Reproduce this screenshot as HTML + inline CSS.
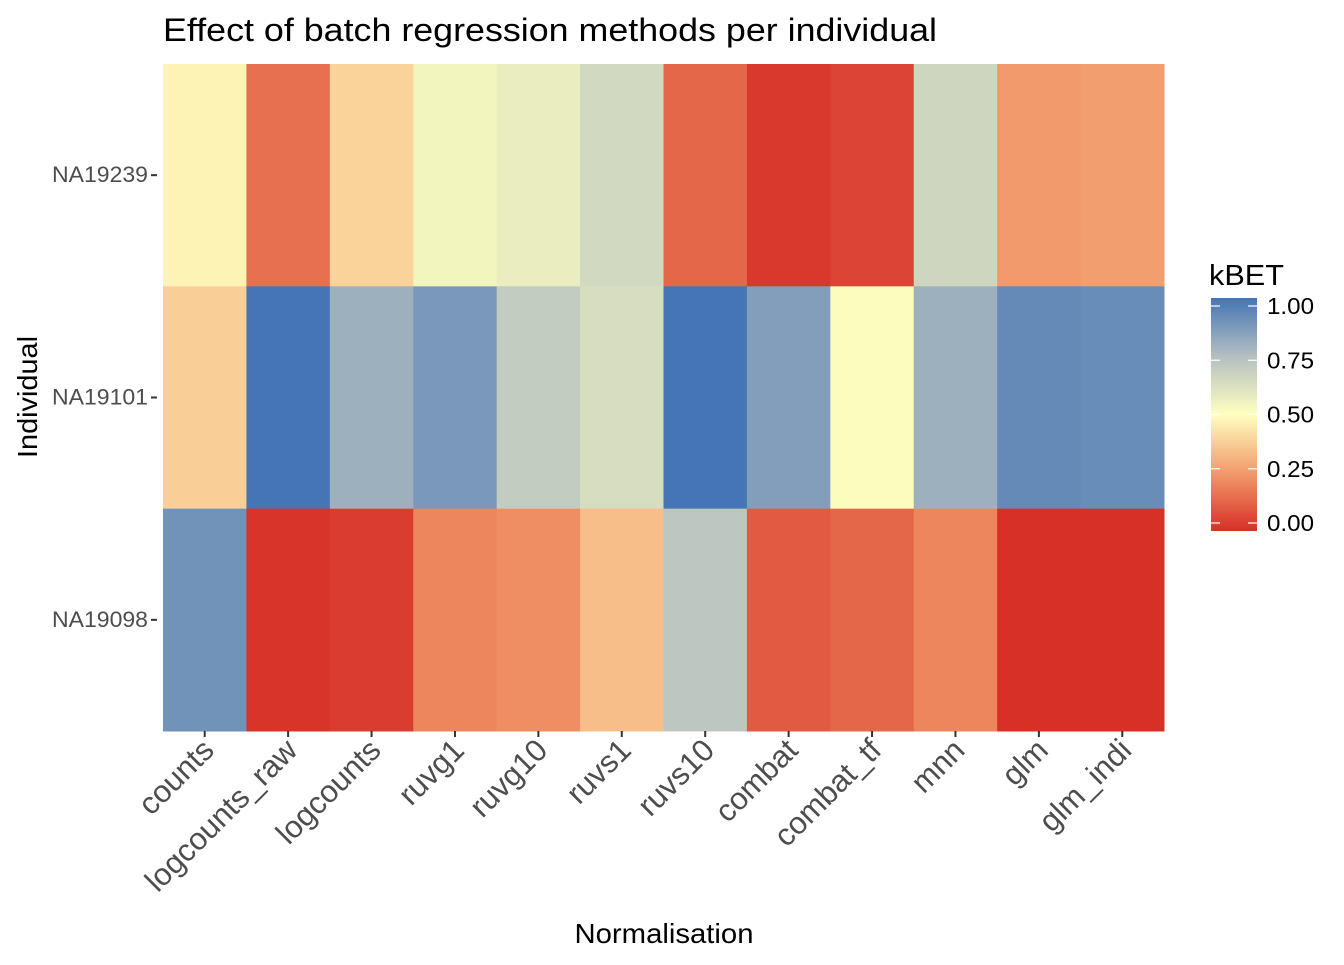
<!DOCTYPE html>
<html><head><meta charset="utf-8"><style>
body{margin:0;background:#fff;font-family:"Liberation Sans",Arial,sans-serif;}
</style></head><body>
<svg id="chart" width="1344" height="960" xmlns="http://www.w3.org/2000/svg" font-family="Liberation Sans, Arial, sans-serif">
<text x="163" y="41" font-size="32" textLength="774" lengthAdjust="spacingAndGlyphs" fill="#000">Effect of batch regression methods per individual</text>
<g id="cells"></g>
<g id="xaxis"></g>
<g id="yaxis"></g>
<text x="664" y="943" font-size="28" textLength="179" lengthAdjust="spacingAndGlyphs" text-anchor="middle">Normalisation</text>
<text transform="translate(37,397) rotate(-90)" font-size="28" textLength="122" lengthAdjust="spacingAndGlyphs" text-anchor="middle">Individual</text>
<g>
<text x="1209" y="285" font-size="29" textLength="75" lengthAdjust="spacingAndGlyphs">kBET</text>
<defs><linearGradient id="lg" x1="0" y1="1" x2="0" y2="0">
<stop offset="0" stop-color="#d73027"/><stop offset="0.25" stop-color="#f29a6b"/><stop offset="0.5" stop-color="#ffffbf"/><stop offset="0.75" stop-color="#b3bfc1"/><stop offset="1" stop-color="#4575b4"/></linearGradient></defs>
<rect x="1211" y="298" width="46" height="233" fill="url(#lg)"/>
<g id="legticks"></g>
</g>
</svg>
<script>
const categories=["counts","logcounts_raw","logcounts","ruvg1","ruvg10","ruvs1","ruvs10","combat","combat_tf","mnn","glm","glm_indi"];
const individuals=["NA19239","NA19101","NA19098"];
const valuesNA19239=[0.47,0.15,0.39,0.54,0.57,0.65,0.13,0.02,0.05,0.66,0.25,0.26];
const valuesNA19101=[0.38,1.0,0.80,0.88,0.70,0.63,1.0,0.86,0.51,0.80,0.93,0.92];
const valuesNA19098=[0.90,0.01,0.03,0.20,0.22,0.34,0.72,0.10,0.13,0.20,0.0,0.0];
const legendTicks=[0,0.25,0.5,0.75,1];
const rows=[valuesNA19239,valuesNA19101,valuesNA19098];
const NS="http://www.w3.org/2000/svg";
const px0=163,px1=1164,py0=64,py1=731;
const cw=(px1-px0)/categories.length, rh=(py1-py0)/individuals.length;
const xs=i=>px0+i*cw, ys=j=>py0+j*rh;
const stops=[[0,[215,48,39]],[0.25,[242,154,107]],[0.5,[255,255,191]],[0.75,[179,191,193]],[1,[69,117,180]]];
function color(v){v=Math.max(0,Math.min(1,v));for(let k=0;k<stops.length-1;k++){const[a,ca]=stops[k],[b,cb]=stops[k+1];if(v<=b){const t=(v-a)/(b-a);return "rgb("+ca.map((c,i)=>Math.round(c+(cb[i]-c)*t)).join(",")+")";}}return "rgb(69,117,180)";}
function mk(t,a,p){const e=document.createElementNS(NS,t);for(const k in a)e.setAttribute(k,a[k]);p.appendChild(e);return e;}
const cells=document.getElementById("cells");
rows.forEach((r,j)=>r.forEach((v,i)=>{
 const e=mk("rect",{x:xs(i),y:ys(j),width:cw+0.5,height:rh+0.5,fill:color(v)},cells);
 
 
}));
const xa=document.getElementById("xaxis");
categories.forEach((c,i)=>{
 const cx=xs(i)+cw/2;
 const t=mk("line",{x1:cx,x2:cx,y1:731,y2:737,stroke:"#333","stroke-width":2},xa);
 
 
 const l=mk("text",{transform:`translate(${cx+11},${752}) rotate(-45)`,"font-size":"31","text-anchor":"end",fill:"#4d4d4d"},xa);
 l.textContent=c;
 
 
});
const ya=document.getElementById("yaxis");
individuals.forEach((n,j)=>{
 const cy=ys(j)+rh/2;
 const t=mk("line",{x1:151,x2:157,y1:cy,y2:cy,stroke:"#333","stroke-width":2},ya);
 
 
 const l=mk("text",{x:148,y:cy+7,"font-size":"22",textLength:"96",lengthAdjust:"spacingAndGlyphs","text-anchor":"end",fill:"#4d4d4d"},ya);
 l.textContent=n;
 
 
});
const lt=document.getElementById("legticks");
legendTicks.forEach(v=>{
 const y=523-v*217;
 mk("line",{x1:1211,x2:1220,y1:y,y2:y,stroke:"#fff","stroke-width":1.2},lt);
 mk("line",{x1:1248,x2:1257,y1:y,y2:y,stroke:"#fff","stroke-width":1.2},lt);
 const l=mk("text",{x:1267,y:y+8,"font-size":"23",textLength:"47",lengthAdjust:"spacingAndGlyphs",fill:"#000"},lt);
 l.textContent=v.toFixed(2);
 
 
});
</script>
</body></html>
